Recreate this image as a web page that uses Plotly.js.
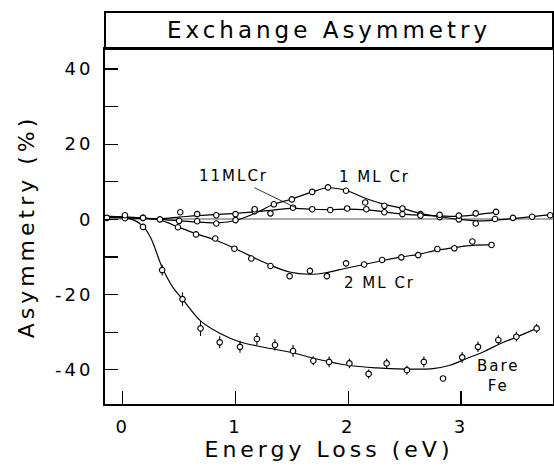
<!DOCTYPE html>
<html>
<head>
<meta charset="utf-8">
<script src="https://cdn.plot.ly/plotly-3.0.1.min.js"></script>
<style>
  html, body { margin: 0; padding: 0; background: #fff; }
  #chart { width: 554px; height: 475px; }
  .gtitle { letter-spacing: 4px; }
  .xtitle, .ytitle { letter-spacing: 4px; }
  .xtick text, .ytick text { letter-spacing: 3px; }
  .annotation-text { letter-spacing: 2px; }
</style>
</head>
<body>
<div id="chart"></div>
<script>
// ---- Bare Fe (measured points with error bars) ----
const bareFeX   = [0.02, 0.18, 0.35, 0.53, 0.69, 0.86, 1.04, 1.19, 1.35, 1.51, 1.69, 1.83, 2.01, 2.18, 2.34, 2.52, 2.67, 2.84, 3.01, 3.15, 3.33, 3.49, 3.67];
const bareFeY   = [0.5, -2.0, -13.5, -21.2, -29.0, -32.7, -33.9, -31.8, -33.4, -35.0, -37.6, -37.9, -38.3, -41.1, -38.3, -40.1, -37.9, -42.3, -36.7, -33.9, -32.1, -31.2, -29.0];
const bareFeErr = [0, 0, 1.4, 1.8, 2.0, 1.6, 1.6, 1.6, 1.5, 1.6, 1.2, 1.4, 1.3, 1.2, 1.3, 1.2, 1.4, 0.6, 1.4, 1.4, 1.3, 1.3, 1.2];
// Bare Fe fitted curve
const bareFeFitX = [-0.15, 0.0, 0.1, 0.18, 0.25, 0.35, 0.45, 0.53, 0.69, 0.86, 1.04, 1.25, 1.5, 1.7, 2.0, 2.25, 2.5, 2.75, 2.9, 3.05, 3.2, 3.35, 3.5, 3.67];
const bareFeFitY = [0.8, 0.6, -0.2, -1.8, -5.0, -12.8, -18.3, -21.2, -27.0, -30.3, -32.6, -34.0, -35.4, -37.0, -38.8, -39.5, -39.8, -39.7, -38.8, -37.0, -35.2, -33.0, -31.2, -29.0];

// ---- 2 ML Cr ----
const ml2X = [0.33, 0.49, 0.65, 0.82, 0.99, 1.14, 1.31, 1.48, 1.66, 1.81, 1.98, 2.14, 2.30, 2.47, 2.62, 2.79, 2.94, 3.10, 3.27];
const ml2Y = [0.0, -2.1, -4.0, -5.1, -7.8, -10.4, -12.4, -15.1, -13.7, -15.1, -11.7, -12.0, -10.8, -10.1, -9.5, -7.9, -7.7, -5.9, -6.8];
const ml2FitX = [-0.15, 0.1, 0.33, 0.49, 0.65, 0.82, 1.0, 1.15, 1.31, 1.48, 1.65, 1.8, 1.98, 2.14, 2.3, 2.47, 2.62, 2.79, 2.94, 3.1, 3.27];
const ml2FitY = [0.8, 0.5, -0.2, -2.0, -3.8, -5.5, -7.8, -10.0, -12.2, -14.0, -14.6, -14.2, -13.0, -12.0, -11.0, -10.0, -9.3, -8.2, -7.5, -6.9, -6.8];

// ---- 1 ML Cr ----
const ml1X = [0.02, 0.18, 0.50, 0.66, 0.83, 1.00, 1.17, 1.34, 1.50, 1.68, 1.82, 1.98, 2.15, 2.32, 2.48, 2.64, 2.81, 2.98, 3.13, 3.30, 3.46, 3.63, 3.79];
const ml1Y = [0.3, 0.4, -0.4, -0.5, -1.1, -0.2, 2.2, 4.0, 5.3, 7.3, 8.5, 7.6, 4.5, 3.6, 2.9, 1.4, 0.6, 0.0, -1.1, 0.1, 0.4, 0.7, 1.1];
const ml1FitX = [-0.15, 0.1, 0.33, 0.6, 0.85, 1.0, 1.17, 1.34, 1.5, 1.68, 1.82, 1.98, 2.15, 2.32, 2.48, 2.64, 2.81, 2.98, 3.15, 3.3, 3.46, 3.63, 3.815];
const ml1FitY = [0.5, 0.3, 0.0, -0.6, -0.9, -0.3, 1.6, 4.0, 5.4, 7.3, 8.4, 7.7, 5.6, 4.0, 2.9, 1.6, 0.7, 0.0, -0.4, -0.2, 0.2, 0.7, 1.3];

// ---- 11 ML Cr ----
const ml11X = [-0.14, 0.02, 0.18, 0.51, 0.66, 0.83, 1.00, 1.17, 1.31, 1.51, 1.68, 1.84, 1.99, 2.16, 2.32, 2.48, 2.64, 2.81, 2.98, 3.13, 3.31];
const ml11Y = [0.4, 1.1, 0.4, 1.9, 1.4, 1.1, 1.4, 2.7, 1.6, 3.1, 2.7, 2.5, 2.9, 2.7, 1.9, 1.4, 1.0, 1.2, 1.0, 1.6, 2.0];
const ml11FitX = [-0.15, 0.02, 0.18, 0.33, 0.5, 0.66, 0.83, 1.0, 1.17, 1.31, 1.51, 1.68, 1.84, 1.99, 2.16, 2.32, 2.48, 2.64, 2.81, 2.98, 3.13, 3.31];
const ml11FitY = [0.6, 0.5, 0.3, 0.2, 0.6, 1.0, 1.3, 1.6, 2.0, 2.4, 2.9, 2.7, 2.6, 2.7, 2.5, 2.0, 1.4, 1.1, 0.9, 0.8, 1.2, 1.9];

// ---- axis ticks ----
const xTickVals = [0, 1, 2, 3];
const xTickText = ['0', '1', '2', '3'];
const yTickVals = [-40, -20, 0, 20, 40];
const yTickText = ['-40', '-20', '0', '20', '40'];

// ---- curve labels ----
const labelText = ['11MLCr', '1 ML Cr', '2 ML Cr', 'Bare<br>Fe'];
const labelX    = [0.98, 2.23, 2.28, 3.33];
const labelY    = [11.6, 11.2, -16.9, -41.6];

const FONT = 'DejaVu Sans, Liberation Sans, sans-serif';

function fit(x, y) {
  return { x: x, y: y, type: 'scatter', mode: 'lines', hoverinfo: 'skip',
           line: { color: '#000', width: 1.2, shape: 'spline', smoothing: 1 }, showlegend: false };
}
function pts(x, y, err) {
  const t = { x: x, y: y, type: 'scatter', mode: 'markers', showlegend: false,
              marker: { symbol: 'circle', size: 5.5, color: '#fff', line: { color: '#000', width: 1.1 } } };
  if (err) t.error_y = { type: 'data', array: err, visible: true, width: 0, thickness: 1.1, color: '#000' };
  return t;
}

const data = [
  fit(bareFeFitX, bareFeFitY), fit(ml2FitX, ml2FitY), fit(ml1FitX, ml1FitY), fit(ml11FitX, ml11FitY),
  pts(bareFeX, bareFeY, bareFeErr), pts(ml2X, ml2Y), pts(ml1X, ml1Y), pts(ml11X, ml11Y)
];

const annotations = labelText.map((t, i) => ({
  x: labelX[i], y: labelY[i], xref: 'x', yref: 'y', text: t, showarrow: false,
  font: { family: FONT, size: 15, color: '#000' }, align: 'center'
}));
// leader line for 11 ML label
annotations.push({
  x: 1.54, y: 3.0, ax: 1.155, ay: 8.6, axref: 'x', ayref: 'y', xref: 'x', yref: 'y',
  text: '', showarrow: true, arrowhead: 0, arrowwidth: 0.8, arrowcolor: '#000', standoff: 0, startstandoff: 0
});

const layout = {
  width: 554, height: 475,
  margin: { l: 105, r: 1, t: 49, b: 71 },
  paper_bgcolor: '#fff', plot_bgcolor: '#fff',
  font: { family: FONT, color: '#000' },
  title: { text: 'Exchange Asymmetry', font: { family: FONT, size: 23, color: '#000' },
           x: 0.5, xref: 'paper', y: 1 - 30 / 475, yref: 'container', yanchor: 'middle' },
  xaxis: {
    range: [-0.157, 3.815], tickvals: xTickVals, ticktext: xTickText,
    ticks: 'inside', ticklen: 13, tickwidth: 1.2, tickcolor: '#000',
    showline: true, linecolor: '#000', linewidth: 2, mirror: true,
    showgrid: false, zeroline: false, ticklabelstandoff: 5,
    tickfont: { family: FONT, size: 18, color: '#000' },
    title: { text: 'Energy Loss (eV)', font: { family: FONT, size: 22, color: '#000' }, standoff: 6 }
  },
  yaxis: {
    range: [-49.1, 45.3], tickvals: yTickVals, ticktext: yTickText,
    ticks: 'inside', ticklen: 13, tickwidth: 1.2, tickcolor: '#000',
    minor: { tickvals: [-30, -10, 10, 30], ticks: 'inside', ticklen: 13, tickwidth: 1.2, tickcolor: '#000', showgrid: false },
    showline: true, linecolor: '#000', linewidth: 2, mirror: true,
    showgrid: false, zeroline: true, zerolinecolor: '#aaa', zerolinewidth: 2,
    ticklabelstandoff: 6,
    tickfont: { family: FONT, size: 18, color: '#000' },
    title: { text: 'Asymmetry (%)', font: { family: FONT, size: 22, color: '#000' }, standoff: 14 }
  },
  shapes: [{
    type: 'rect', xref: 'paper', yref: 'paper', x0: 0, x1: 1, y0: 1, y1: 1 + 37 / 355,
    line: { color: '#000', width: 2 }, fillcolor: 'rgba(0,0,0,0)'
  }],
  annotations: annotations,
  showlegend: false
};

Plotly.newPlot('chart', data, layout, { staticPlot: true, displayModeBar: false });
</script>
</body>
</html>
